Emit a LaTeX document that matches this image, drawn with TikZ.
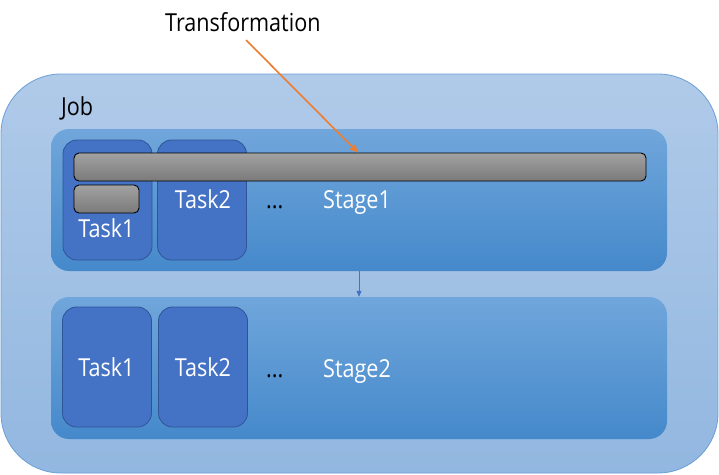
\documentclass[tikz,border=0pt]{standalone}
\usepackage{fontspec}
\setmainfont[FakeStretch=0.87]{Open Sans}
\usetikzlibrary{arrows.meta}
\definecolor{jobtop}{HTML}{B0CAE9}
\definecolor{jobbot}{HTML}{92B7E0}
\definecolor{jobline}{HTML}{6A9FD8}
\definecolor{stagetop}{HTML}{70A6DB}
\definecolor{stagebot}{HTML}{4589CB}
\definecolor{taskfill}{HTML}{4472C4}
\definecolor{taskline}{HTML}{2F5597}
\definecolor{bartop}{HTML}{A2A2A2}
\definecolor{barbot}{HTML}{7A7A7A}
\definecolor{orangeline}{HTML}{ED7D31}
\definecolor{bluearrow}{HTML}{4472C4}
\tikzset{
  jobbox/.style={draw=jobline, line width=0.8pt, top color=jobtop, bottom color=jobbot,
    rounded corners=60pt, minimum width=717pt, minimum height=399pt, inner sep=0pt},
  stagebox/.style={draw=none, top color=stagetop, bottom color=stagebot,
    rounded corners=18pt, minimum width=616pt, minimum height=142pt, inner sep=0pt},
  taskbox/.style={draw=taskline, line width=0.8pt, fill=taskfill,
    rounded corners=14pt, minimum width=89pt, minimum height=120pt, inner sep=0pt},
  graybar/.style={draw=black, line width=0.9pt, top color=bartop, bottom color=barbot,
    rounded corners=5pt, minimum height=28pt, inner sep=0pt},
  lbl/.style={font=\fontsize{24.8}{30}\selectfont, inner sep=0pt},
  whitelbl/.style={lbl, text=white},
}
\begin{document}
\begin{tikzpicture}[x=1pt,y=-1pt]
\useasboundingbox[fill=white] (0,0) rectangle (719,474);
% outer job
\node[jobbox] (job) at (359.5,273.5) {};
\node[lbl, anchor=base west] (joblbl) at (61,115) {Job};
% stages
\node[stagebox] (stage1) at (359,200) {};
\node[stagebox] (stage2) at (359,368) {};
% stage 1 tasks
\node[taskbox] (t11) at (107.5,200) {};
\node[taskbox] (t12) at (202,200) {};
\node[graybar, minimum width=572pt] (bar) at (360,167) {};
\node[graybar, minimum width=65pt] (small) at (106.5,199) {};
\node[whitelbl, anchor=base] (t11lbl) at (106.5,237) {Task1};
\node[whitelbl, anchor=base] (t12lbl) at (203,208) {Task2};
\node[lbl, anchor=base west] (dots1) at (266,208) {...};
\node[whitelbl, anchor=base west] (s1lbl) at (323,208) {Stage1};
% stage 2 tasks
\node[taskbox] (t21) at (107,367) {};
\node[taskbox] (t22) at (203,367) {};
\node[whitelbl, anchor=base] (t21lbl) at (106.5,376) {Task1};
\node[whitelbl, anchor=base] (t22lbl) at (203,376) {Task2};
\node[lbl, anchor=base west] (dots2) at (266,377) {...};
\node[whitelbl, anchor=base west] (s2lbl) at (323,377) {Stage2};
% transformation
\node[lbl, anchor=base west] (trans) at (165,31) {Transformation};
\coordinate (transend) at (246,40);
\draw[orangeline, line width=1.6pt, -{Triangle[length=8pt,width=7pt]}] (transend) -- ([xshift=-2pt]bar.north);
\draw[bluearrow, line width=0.8pt, -{Triangle[length=6pt,width=5pt]}] (stage1.south) -- (stage2.north);
\end{tikzpicture}
\end{document}
